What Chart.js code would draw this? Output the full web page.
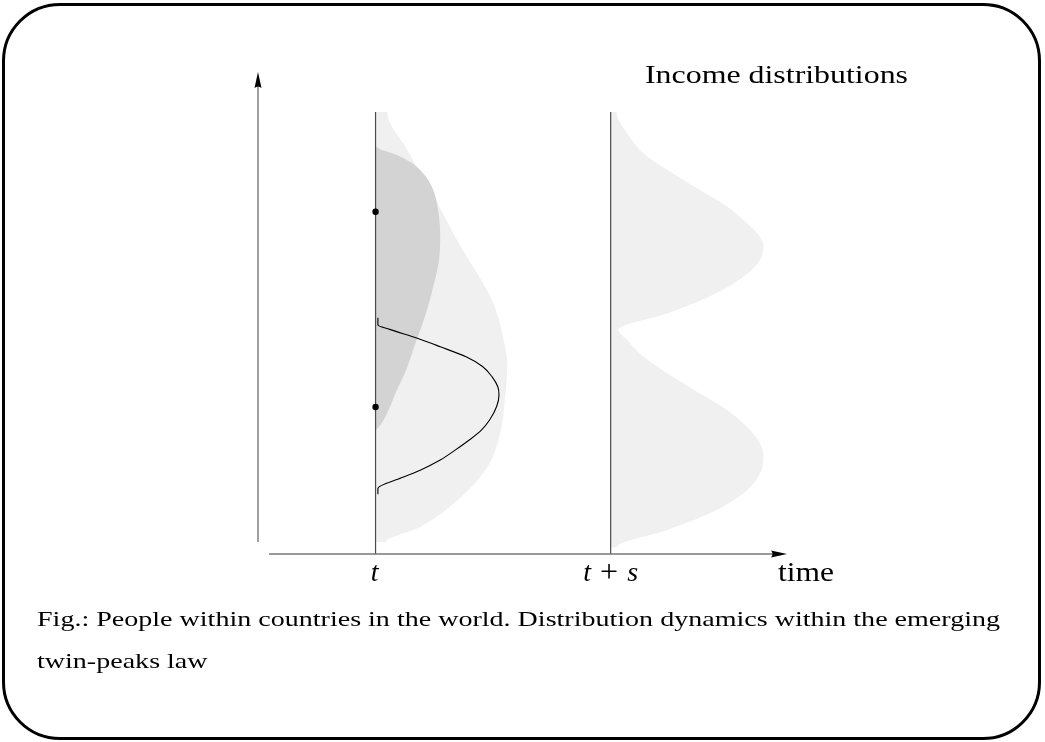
<!DOCTYPE html>
<html>
<head>
<meta charset="utf-8">
<title>Income distributions</title>
<script src="https://cdn.jsdelivr.net/npm/chart.js@4.4.1/dist/chart.umd.min.js"></script>
<style>
  html, body { margin: 0; padding: 0; background: #fff; }
  #wrap { position: relative; width: 1045px; height: 742px; }
  #frame { position: absolute; left: 2px; top: 3px; width: 1039px; height: 737px; box-sizing: border-box;
           border: 3px solid #000; border-radius: 58px; pointer-events: none; }
  canvas { position: absolute; left: 0; top: 0; }
</style>
</head>
<body>
<div id="wrap">
  <canvas id="myChart" width="1045" height="742"></canvas>
  <div id="frame"></div>
</div>
<script>
// positions of the two dates on the time axis
const timeLabels = ['t', 't + s'];
const timePos = [1, 3];
const lineTop = 9.17;

// cross-country income distribution at t (light grey)
const incomeWide = [9.17, 9.17, 8.38, 7.49, 6.31, 5.68, 5.27, 4.85, 4.44, 3.96, 3.20, 2.51, 1.80, 1.12, 0.56, 0.25, 0.25];
const densWide   = [0, 0.10, 0.27, 0.48, 0.74, 0.90, 0.99, 1.05, 1.09, 1.12, 1.10, 1.06, 0.95, 0.70, 0.38, 0.09, 0];

// richer group at t (dark grey)
const incomeDark = [8.44, 8.44, 8.28, 8.11, 7.82, 7.49, 6.99, 6.66, 6.10, 5.54, 5.00, 4.38, 3.82, 3.34, 2.93, 2.61, 2.57];
const densDark   = [0, 0.02, 0.18, 0.31, 0.43, 0.50, 0.54, 0.55, 0.54, 0.49, 0.43, 0.34, 0.26, 0.17, 0.10, 0.02, 0];

// people within one country at t (black curve)
const incomeCurve = [4.90, 4.75, 4.66, 4.48, 4.30, 4.09, 3.89, 3.68, 3.47, 3.30, 3.06, 2.78, 2.57, 2.37, 2.16, 1.95, 1.74, 1.58, 1.36, 1.24];
const densCurve   = [0.02, 0.02, 0.12, 0.35, 0.55, 0.77, 0.91, 0.99, 1.04, 1.05, 1.03, 0.97, 0.90, 0.80, 0.68, 0.55, 0.38, 0.22, 0.02, 0.02];

// twin peaks at t + s
const incomeUpper = [9.17, 9.17, 8.73, 8.31, 7.97, 7.55, 7.21, 6.86, 6.58, 6.38, 6.10, 5.75, 5.34, 4.99, 4.66, 4.66];
const densUpper   = [0, 0.05, 0.14, 0.28, 0.48, 0.76, 0.99, 1.16, 1.27, 1.30, 1.27, 1.13, 0.84, 0.48, 0.07, 0];
const incomeLower = [4.68, 4.68, 4.44, 4.09, 3.75, 3.33, 2.99, 2.64, 2.30, 2.02, 1.67, 1.26, 0.84, 0.50, 0.14, 0.14];
const densLower   = [0, 0.06, 0.14, 0.28, 0.48, 0.76, 0.99, 1.16, 1.27, 1.30, 1.27, 1.13, 0.84, 0.48, 0.05, 0];

// two countries marked on the t line
const dotIncome = [7.10, 3.05];

const titleText = 'Income distributions';
const axisName = 'time';
const caption = ['Fig.: People within countries in the world. Distribution dynamics within the emerging',
                 'twin-peaks law'];

function shape(base, dens, income) {
  return dens.map((d, i) => ({ x: base + d, y: income[i] }));
}

const serif = '"Liberation Serif", "Times New Roman", serif';
const none = 'rgba(0,0,0,0)';

// draw text stretched to a given width
function fitText(c, text, x, y, width, font) {
  c.font = font;
  const w = c.measureText(text).width;
  c.save();
  c.translate(x, y);
  c.scale(width / w, 1);
  c.fillText(text, 0, 0);
  c.restore();
  return width / w;
}

const decorations = {
  id: 'decorations',
  afterDraw(chart) {
    const c = chart.ctx, sx = chart.scales.x, sy = chart.scales.y;
    const x0 = sx.getPixelForValue(0), y0 = sy.getPixelForValue(0);
    const yTip = sy.getPixelForValue(10), xTip = sx.getPixelForValue(4.5);
    c.save();
    c.strokeStyle = '#777';
    c.lineWidth = 1.4;
    c.beginPath();
    c.moveTo(x0, sy.getPixelForValue(0.25));
    c.lineTo(x0, yTip + 12);
    c.stroke();
    c.beginPath();
    c.moveTo(sx.getPixelForValue(0.094), y0);
    c.lineTo(xTip - 12, y0);
    c.stroke();

    // arrow heads
    c.fillStyle = '#000';
    c.beginPath();
    c.moveTo(x0, yTip);
    c.lineTo(x0 - 3.5, yTip + 16);
    c.quadraticCurveTo(x0, yTip + 13, x0 + 3.5, yTip + 16);
    c.closePath();
    c.fill();
    c.beginPath();
    c.moveTo(xTip, y0);
    c.lineTo(xTip - 16, y0 - 3.5);
    c.quadraticCurveTo(xTip - 13, y0, xTip - 16, y0 + 3.5);
    c.closePath();
    c.fill();

    // labels under the time axis
    c.fillStyle = '#000';
    c.textBaseline = 'alphabetic';
    const base = 581;
    c.font = 'italic 28px ' + serif;
    c.textAlign = 'center';
    c.fillText(timeLabels[0], sx.getPixelForValue(timePos[0]) - 1, base);

    // "t + s" set piece by piece, math style
    c.textAlign = 'left';
    const parts = timeLabels[1].split(' ');
    const fonts = ['italic 28px ' + serif, '32px ' + serif, 'italic 28px ' + serif];
    const gap = 9;
    const widths = parts.map((p, i) => { c.font = fonts[i]; return c.measureText(p).width; });
    const total = widths.reduce((a, b) => a + b, 0) + gap * 2;
    let px = sx.getPixelForValue(timePos[1]) - total / 2;
    parts.forEach((p, i) => {
      c.font = fonts[i];
      c.fillText(p, px, base + (i === 1 ? 1 : 0));
      px += widths[i] + gap;
    });

    fitText(c, axisName, xTip - 9, base, 56, '27px ' + serif);

    // title and caption
    fitText(c, titleText, 645, 83, 263, '26px ' + serif);
    const k = fitText(c, caption[0], 37, 626, 963, '22px ' + serif);
    c.font = '22px ' + serif;
    fitText(c, caption[1], 37, 668, c.measureText(caption[1]).width * k, '22px ' + serif);
    c.restore();
  }
};

const ctx = document.getElementById('myChart');

const area = { borderColor: none, borderWidth: 0, fill: 'shape', cubicInterpolationMode: 'monotone' };

new Chart(ctx, {
  type: 'line',
  data: {
    datasets: [
      { ...area, label: 'Countries at t', data: shape(timePos[0], densWide, incomeWide),
        backgroundColor: '#f0f0f0', order: 6 },
      { ...area, label: 'Richer countries at t', data: shape(timePos[0], densDark, incomeDark),
        backgroundColor: '#d3d3d3', order: 5 },
      { ...area, label: 'Upper peak', data: shape(timePos[1], densUpper, incomeUpper),
        backgroundColor: '#f0f0f0', order: 6 },
      { ...area, label: 'Lower peak', data: shape(timePos[1], densLower, incomeLower),
        backgroundColor: '#f0f0f0', order: 6 },
      { label: 't', data: [{ x: timePos[0], y: 0 }, { x: timePos[0], y: lineTop }],
        borderColor: '#4a4a4a', borderWidth: 1.2, tension: 0, order: 4 },
      { label: 't + s', data: [{ x: timePos[1], y: 0 }, { x: timePos[1], y: lineTop }],
        borderColor: '#4a4a4a', borderWidth: 1.2, tension: 0, order: 4 },
      { label: 'People within a country', data: shape(timePos[0], densCurve, incomeCurve),
        borderColor: '#000', borderWidth: 1.1, fill: false, cubicInterpolationMode: 'monotone', order: 2 },
      { label: 'Countries', data: dotIncome.map(v => ({ x: timePos[0], y: v })),
        showLine: false, pointRadius: 3.2, pointBackgroundColor: '#000', pointBorderWidth: 0, order: 1 }
    ]
  },
  options: {
    indexAxis: 'y',
    responsive: false,
    animation: false,
    devicePixelRatio: 1,
    elements: {
      point: { radius: 0, hoverRadius: 0 }
    },
    layout: { padding: { left: 258, right: 258, top: 72, bottom: 188 } },
    scales: {
      x: { type: 'linear', min: 0, max: 4.5, display: false },
      y: { type: 'linear', min: 0, max: 10, display: false }
    },
    plugins: {
      legend: { display: false },
      tooltip: { enabled: false }
    }
  },
  plugins: [decorations]
});
</script>
</body>
</html>
